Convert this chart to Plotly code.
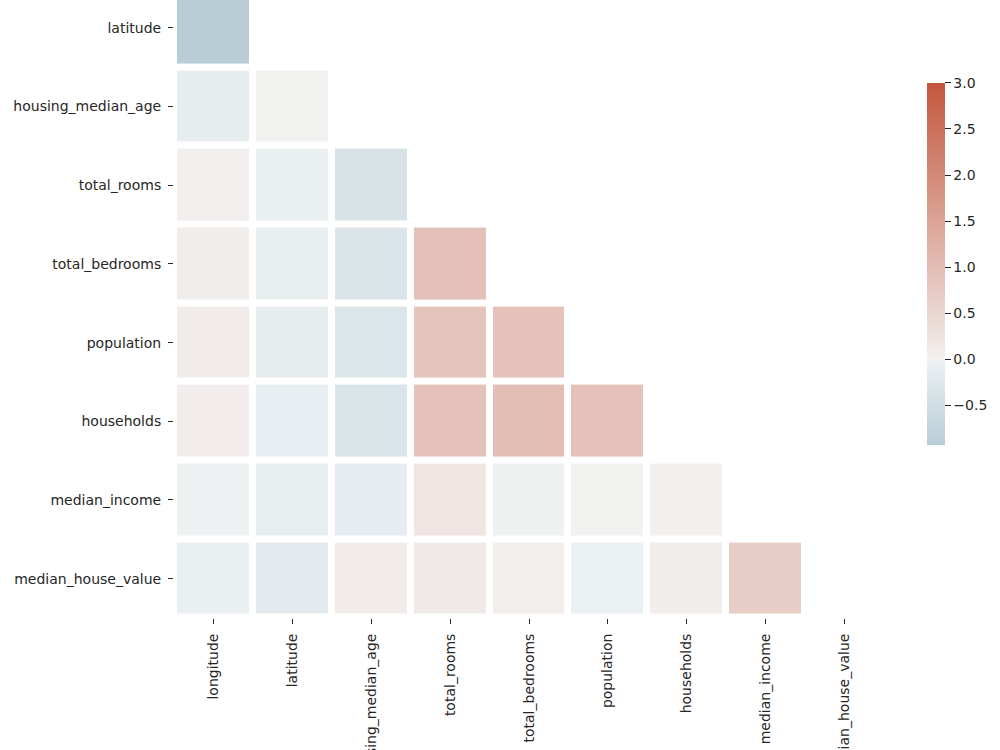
import numpy as np
import plotly.graph_objects as go

# ---- data ----
columns = ["longitude", "latitude", "housing_median_age", "total_rooms",
           "total_bedrooms", "population", "households", "median_income",
           "median_house_value"]
rows = columns[1:]

corr_latitude = [-0.925]
corr_housing_median_age = [-0.108, 0.011]
corr_total_rooms = [0.045, -0.036, -0.361]
corr_total_bedrooms = [0.070, -0.067, -0.320, 0.930]
corr_population = [0.100, -0.109, -0.296, 0.857, 0.878]
corr_households = [0.055, -0.071, -0.303, 0.918, 0.980, 0.907]
corr_median_income = [-0.015, -0.080, -0.119, 0.198, -0.008, 0.005, 0.013]
corr_median_house_value = [-0.046, -0.144, 0.106, 0.134, 0.050, -0.025, 0.066, 0.688]

row_values = [corr_latitude, corr_housing_median_age, corr_total_rooms,
              corr_total_bedrooms, corr_population, corr_households,
              corr_median_income, corr_median_house_value]

vmax = 3.0
center = 0.0

# ---- build masked matrix ----
z = []
for vals in row_values:
    z.append(list(vals) + [None] * (len(columns) - len(vals)))
zmin = min(min(v) for v in row_values)

# ---- seaborn-like diverging colormap (230 -> 20, light center), recentred ----
anchors_p = [0.0, 127 / 256, 0.5, 129 / 256, 1.0]
anchors_c = [(71, 123, 150), (235, 240, 242), (241, 242, 241), (242, 239, 238), (195, 87, 61)]


def cmap(p):
    p = min(max(p, 0.0), 1.0)
    for i in range(len(anchors_p) - 1):
        if anchors_p[i] <= p <= anchors_p[i + 1]:
            f = (p - anchors_p[i]) / (anchors_p[i + 1] - anchors_p[i])
            a, b = anchors_c[i], anchors_c[i + 1]
            return tuple(a[k] + f * (b[k] - a[k]) for k in range(3))
    return anchors_c[-1]


vrange = max(vmax - center, center - zmin)


def to_p(v):
    return (v - (center - vrange)) / (2 * vrange)


pts = [zmin] + [center - vrange + ap * 2 * vrange for ap in anchors_p
                if zmin < center - vrange + ap * 2 * vrange < vmax] + [vmax]
colorscale = []
for v in pts:
    t = (v - zmin) / (vmax - zmin)
    c = cmap(to_p(v))
    colorscale.append([t, "rgb(%d,%d,%d)" % tuple(round(x) for x in c)])

font = dict(family="DejaVu Sans", size=14, color="#262626")

fig = go.Figure(go.Heatmap(
    z=z, x=columns, y=rows,
    zmin=zmin, zmax=vmax,
    colorscale=colorscale,
    xgap=7, ygap=7,
    hoverongaps=False,
    colorbar=dict(
        x=(928 - 174) / 710.5, xanchor="left", xpad=0,
        y=1 - 264 / 618.5, yanchor="middle", ypad=0,
        lenmode="pixels", len=362, thickness=18,
        outlinewidth=0,
        tickvals=[-0.5, 0.0, 0.5, 1.0, 1.5, 2.0, 2.5, 3.0],
        tickformat=".1f",
        tickprefix="\u2009",
        ticks="outside", ticklen=6, tickcolor="#262626", tickwidth=1,
        tickfont=font,
    ),
))

fig.update_layout(
    width=1000, height=750,
    margin=dict(l=174, r=115.5, t=0, b=131.5),
    paper_bgcolor="white", plot_bgcolor="white",
    font=font,
)
fig.update_xaxes(
    tickangle=-90, ticks="outside", ticklen=5, tickcolor="#262626",
    showgrid=False, zeroline=False, showline=False, automargin=False,
    tickfont=font, range=[-0.5, 8.5], ticklabelstandoff=4,
)
fig.update_yaxes(
    ticks="outside", ticklen=5, tickcolor="#262626",
    showgrid=False, zeroline=False, showline=False, automargin=False,
    tickfont=font, range=[7.5, -0.5 + 11.5 / 79], ticklabelstandoff=4,
)

fig.write_html("out.html")
